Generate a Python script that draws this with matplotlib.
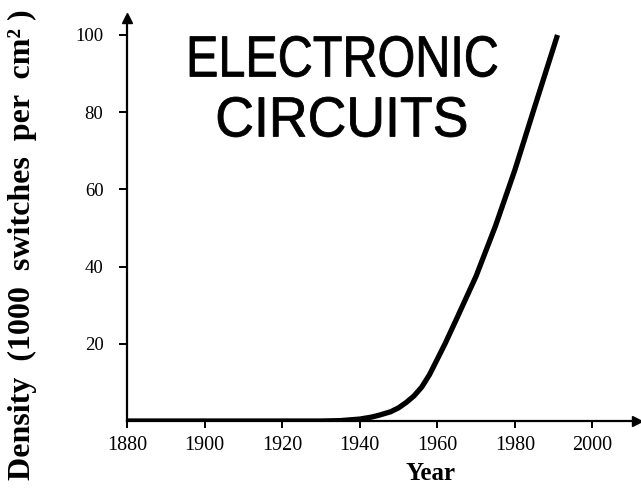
import matplotlib
matplotlib.use("Agg")
import matplotlib.pyplot as plt
from matplotlib.textpath import TextPath
from matplotlib.patches import PathPatch
from matplotlib.font_manager import FontProperties
from matplotlib.transforms import Affine2D, IdentityTransform

# Data
years = [1880, 1900, 1920, 1930, 1935, 1940, 1943, 1945, 1948, 1950, 1952, 1954, 1956, 1958, 1960, 1962, 1965, 1970, 1975, 1980, 1985, 1991]
density = [0, 0, 0, 0, 0.1, 0.5, 1.0, 1.5, 2.4, 3.4, 4.8, 6.5, 8.8, 12.0, 16.0, 20.0, 26.5, 37.5, 50.5, 65.0, 81.0, 100.0]
xticks = [1880, 1900, 1920, 1940, 1960, 1980, 2000]
yticks = [20, 40, 60, 80, 100]
title_lines = ["ELECTRONIC", "CIRCUITS"]
x_label = "Year"
y_label = "Density  (1000  switches  per  cm² )"

W, H = 641, 497
fig = plt.figure(figsize=(W / 100, H / 100), dpi=100)
ax = fig.add_axes([127/W, 1 - 421/H, (637-127)/W, (421-18)/H])

ax.plot(years, density, color="black", lw=3.8, solid_capstyle="butt", solid_joinstyle="round")

ax.set_xlim(1880, 2011.5)
ax.set_ylim(0, 104.4)
ax.spines["top"].set_visible(False)
ax.spines["right"].set_visible(False)
for s in ("left", "bottom"):
    ax.spines[s].set_linewidth(1.6)
ax.plot(1, 0, marker=">", color="black", markersize=7, transform=ax.transAxes, clip_on=False)
ax.plot(0, 1, marker="^", color="black", markersize=7, transform=ax.transAxes, clip_on=False)

serif = "Liberation Serif"
ax.set_xticks(xticks)
ax.set_xticklabels([str(t) for t in xticks], fontfamily=serif, fontsize=14.5)
ax.set_yticks(yticks)
ax.set_yticklabels([str(t) for t in yticks], fontfamily=serif, fontsize=13.5)
ax.tick_params(axis="x", direction="out", length=5, width=1.4, pad=6)
ax.tick_params(axis="y", direction="out", length=6, width=1.4, pad=11)

fig.text(431/W, 1 - 474/H, x_label, fontfamily=serif, fontweight="bold",
         fontsize=18, ha="center", va="center")
fig.text(22/W, 1 - 245/H, y_label,
         fontfamily=serif, fontweight="bold", fontsize=23, rotation=90,
         ha="center", va="center")

# Condensed title: text path scaled into the box it occupies in the reference (pixels)
prop = FontProperties(family="Liberation Sans")
boxes = [(190, 497, 36, 77), (218, 466, 97, 137)]
for line, (x0, x1, ytop, ybot) in zip(title_lines, boxes):
    tp = TextPath((0, 0), line, size=50, prop=prop)
    ext = tp.get_extents()
    sx = (x1 - x0) / ext.width
    sy = (ybot - ytop) / ext.height
    tr = (Affine2D().translate(-ext.x0, -ext.y0).scale(sx, sy)
          .translate(x0, H - ybot))
    patch = PathPatch(tr.transform_path(tp), facecolor="black", edgecolor="black",
                      lw=0.6, transform=IdentityTransform())
    fig.add_artist(patch)

fig.savefig("out.png", dpi=100, facecolor="white")
